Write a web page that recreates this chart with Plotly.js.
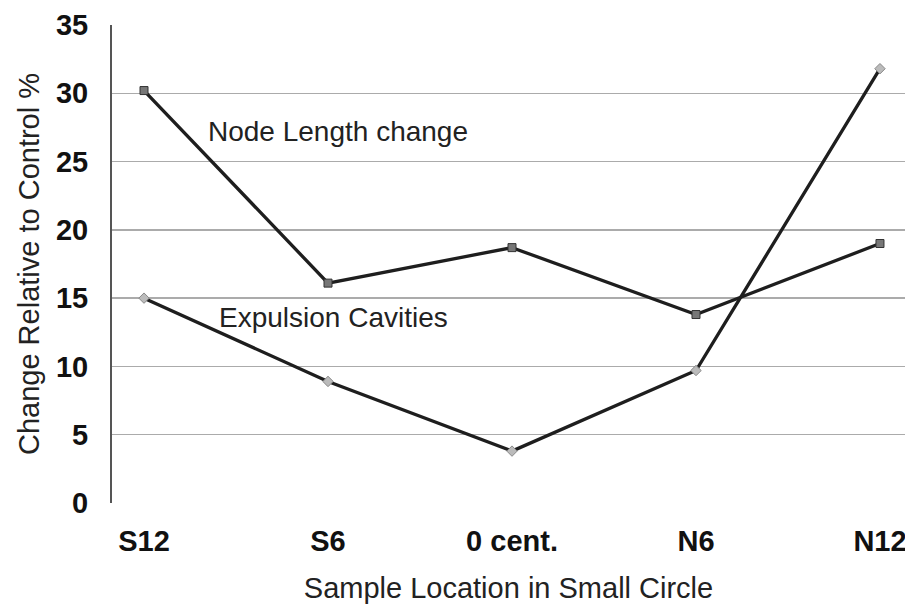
<!DOCTYPE html>
<html>
<head>
<meta charset="utf-8">
<script src="https://cdn.plot.ly/plotly-3.0.1.min.js"></script>
<style>html,body{margin:0;padding:0;background:#fff;}#chart{width:905px;height:604px;}</style>
</head>
<body>
<div id="chart"></div>
<script>
const categories = ["S12", "S6", "0 cent.", "N6", "N12"];
const nodeLength = [30.2, 16.1, 18.7, 13.8, 19.0];
const expulsion = [15.0, 8.9, 3.8, 9.7, 31.8];
const yTicks = [0, 5, 10, 15, 20, 25, 30, 35];

const sans = "Liberation Sans, Arial, sans-serif";

const traces = [
  {
    x: categories, y: nodeLength, type: "scatter", mode: "lines+markers",
    name: "Node Length change",
    line: {color: "#1e1e1e", width: 3.3},
    marker: {symbol: "square", size: 8, color: "#777", line: {color: "#333", width: 1}}
  },
  {
    x: categories, y: expulsion, type: "scatter", mode: "lines+markers",
    name: "Expulsion Cavities",
    line: {color: "#1e1e1e", width: 3.3},
    marker: {symbol: "diamond", size: 8, color: "#bbb", line: {color: "#888", width: 1}}
  }
];

const layout = {
  width: 905, height: 604,
  margin: {l: 112, r: 0, t: 25, b: 101},
  paper_bgcolor: "#fff", plot_bgcolor: "#fff",
  showlegend: false,
  xaxis: {
    type: "category",
    range: [-0.174, 4.136],
    showgrid: false, zeroline: false, showline: false,
    ticks: "", ticklabelstandoff: 18,
    tickfont: {family: sans, size: 29, color: "#111", weight: "bold"},
    title: {text: "Sample Location in Small Circle", font: {family: sans, size: 29, color: "#222"}, standoff: 21}
  },
  yaxis: {
    range: [0, 35],
    tickvals: yTicks,
    showgrid: true, gridcolor: "#ababab", gridwidth: 1.5,
    zeroline: false,
    showline: true, linecolor: "#555", linewidth: 2,
    ticks: "", ticklabelstandoff: 16,
    tickfont: {family: sans, size: 29, color: "#111", weight: "bold"},
    title: {text: "Change Relative to Control %", font: {family: sans, size: 29, color: "#222"}, standoff: 8}
  },
  annotations: [
    {x: 1, y: 27.2, xref: "x", yref: "y", text: "Node Length change", showarrow: false,
     xanchor: "center", yanchor: "middle", xshift: 10, font: {family: sans, size: 28, color: "#222"}},
    {x: 1, y: 13.6, xref: "x", yref: "y", text: "Expulsion Cavities", showarrow: false,
     xanchor: "center", yanchor: "middle", xshift: 5, font: {family: sans, size: 28, color: "#222"}}
  ]
};

Plotly.newPlot("chart", traces, layout, {displayModeBar: false, staticPlot: true});
</script>
</body>
</html>
